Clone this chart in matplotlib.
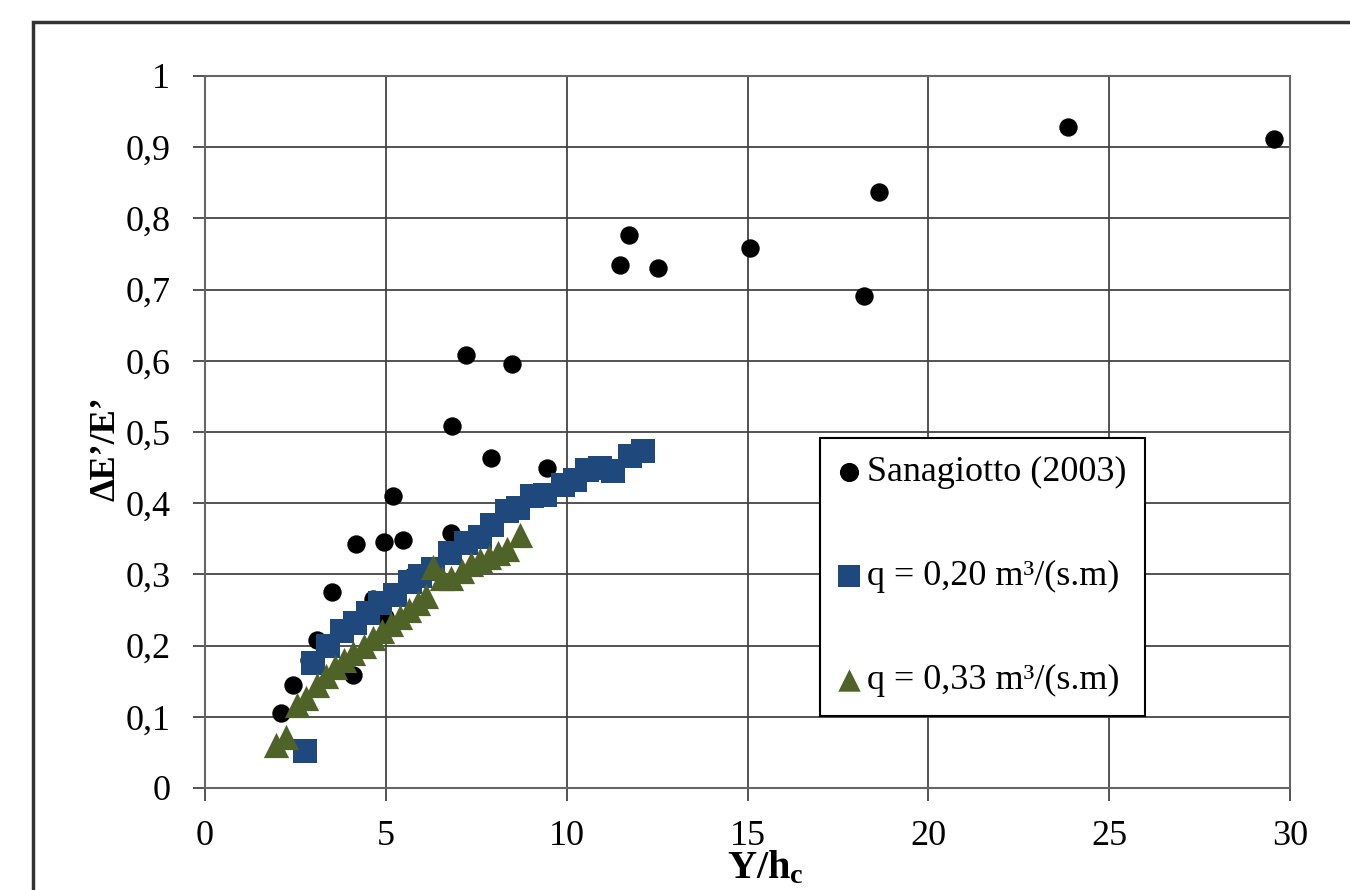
import matplotlib
matplotlib.use("Agg")
import matplotlib.pyplot as plt
from matplotlib.patches import Rectangle
from matplotlib.ticker import FixedLocator, FuncFormatter

plt.rcParams['font.family'] = ['Liberation Serif', 'DejaVu Serif']
plt.rcParams['mathtext.fontset'] = 'custom'
plt.rcParams['mathtext.rm'] = 'Liberation Serif'
plt.rcParams['mathtext.bf'] = 'Liberation Serif:bold'
plt.rcParams['mathtext.it'] = 'Liberation Serif:italic'

# ---- data ----
san_x = [2.10, 2.44, 2.88, 3.09, 3.50, 4.08, 4.18, 4.65, 4.98, 4.95, 5.21, 5.48,
         5.71, 6.81, 6.84, 7.22, 7.91, 8.49, 9.47, 11.47, 11.73, 12.53, 15.08,
         18.21, 18.63, 23.86, 29.55]
san_y = [0.106, 0.145, 0.180, 0.208, 0.275, 0.159, 0.343, 0.266, 0.240, 0.346, 0.410, 0.349,
         0.298, 0.358, 0.508, 0.608, 0.464, 0.595, 0.449, 0.734, 0.777, 0.730, 0.758,
         0.691, 0.837, 0.929, 0.912]

q20_x = [2.76, 2.99, 3.41, 3.78, 4.15, 4.52, 4.84, 5.25, 5.67, 5.95, 6.31, 6.77, 7.23,
         7.60, 7.93, 8.34, 8.66, 9.03, 9.40, 9.91, 10.23, 10.55, 10.92, 11.29, 11.75, 12.12]
q20_y = [0.052, 0.175, 0.199, 0.220, 0.232, 0.246, 0.260, 0.271, 0.290, 0.298, 0.307, 0.330, 0.344,
         0.353, 0.370, 0.389, 0.393, 0.410, 0.412, 0.426, 0.433, 0.447, 0.450, 0.445, 0.466, 0.473]

q33_x = [1.95, 2.25, 2.55, 2.80, 3.10, 3.35, 3.60, 3.85, 4.10, 4.40, 4.65, 4.90, 5.15,
         5.40, 5.65, 5.90, 6.10, 6.30, 6.55, 6.80, 7.10, 7.35, 7.60, 7.85, 8.10, 8.35, 8.70]
q33_y = [0.060, 0.072, 0.117, 0.127, 0.145, 0.157, 0.170, 0.180, 0.190, 0.200, 0.210, 0.220, 0.230,
         0.240, 0.250, 0.260, 0.270, 0.310, 0.295, 0.295, 0.305, 0.315, 0.320, 0.325, 0.330, 0.335, 0.355]

labels = ['Sanagiotto (2003)', 'q = 0,20 m³/(s.m)', 'q = 0,33 m³/(s.m)']
x_ticks = [0, 5, 10, 15, 20, 25, 30]
y_ticks = [0, 0.1, 0.2, 0.3, 0.4, 0.5, 0.6, 0.7, 0.8, 0.9, 1.0]

# ---- figure ----
W, H = 1350, 890
fig = plt.figure(figsize=(W / 100, H / 100), dpi=100)
ax = fig.add_axes([205 / W, 1 - 788 / H, (1290 - 205) / W, (788 - 76) / H])

ax.scatter(san_x, san_y, s=175, marker='o', color='black', zorder=3, label=labels[0], linewidths=0)
ax.scatter(q20_x, q20_y, s=300, marker='s', color='#1F497D', zorder=4, label=labels[1], linewidths=0)
ax.scatter(q33_x, q33_y, s=330, marker='^', color='#4F6228', zorder=5, label=labels[2], linewidths=0)

ax.set_xlim(0, 30)
ax.set_ylim(0, 1)
ax.xaxis.set_major_locator(FixedLocator(x_ticks))
ax.yaxis.set_major_locator(FixedLocator(y_ticks))
ax.xaxis.set_major_formatter(FuncFormatter(lambda v, p: f"{v:g}"))
ax.yaxis.set_major_formatter(FuncFormatter(lambda v, p: f"{v:g}".replace('.', ',')))
ax.grid(True, color='#444444', linewidth=1.3, zorder=1)
ax.set_axisbelow(True)
ax.tick_params(axis='both', direction='out', length=9, width=1.3, color='#444444',
               labelsize=26, labelcolor='black')
ax.tick_params(axis='y', pad=16)
ax.tick_params(axis='x', pad=14)
for sp in ax.spines.values():
    sp.set_color('#666666')
    sp.set_linewidth(1.5)

# axis titles
fig.text(106 / W, 1 - 449 / H, 'ΔE’/E’', rotation=90, fontsize=26, fontweight='bold',
         ha='center', va='center')
fig.text(765 / W, 1 - 850 / H, r'$\mathbf{Y/h_c}$', fontsize=29, ha='center', va='top')

# legend
leg = ax.legend(loc='upper left', bbox_to_anchor=(820 / W, 1 - 438 / H),
                bbox_transform=fig.transFigure, borderaxespad=0, fontsize=26,
                scatterpoints=1, markerscale=1.0, handlelength=0.6, handletextpad=0.2,
                labelspacing=1.96, borderpad=0.5, fancybox=False, framealpha=1,
                edgecolor='black')
leg.get_frame().set_linewidth(1.5)
for h, sz in zip(leg.legend_handles, [190, 230, 260]):
    h.set_sizes([sz])

# outer chart border
top = 1 - 22 / H
fig.patches.append(Rectangle((33 / W, -0.2), 2.0, top + 0.2, transform=fig.transFigure,
                             fill=False, edgecolor='#333333', linewidth=2.5, zorder=0))

fig.savefig('out.png', dpi=100)
